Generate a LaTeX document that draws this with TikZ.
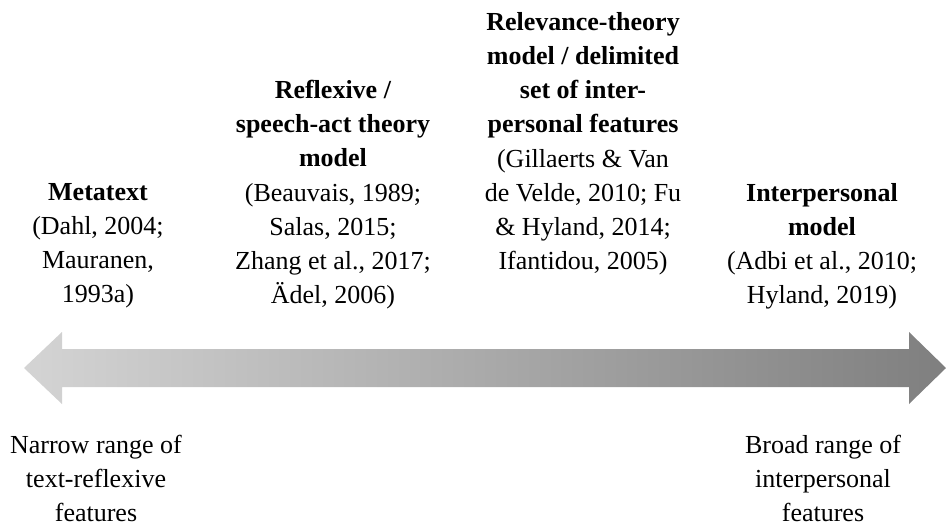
\documentclass[tikz,border=0pt]{standalone}
\usepackage{fontspec}
\setmainfont{Liberation Serif}
\definecolor{PaleGrey}{HTML}{D4D4D4}
\definecolor{DarkGrey}{HTML}{7F7F7F}

\begin{document}
\begin{tikzpicture}[x=1pt,y=-1pt,
  model/.style={align=center,inner sep=0pt,anchor=north,
    font=\fontsize{26}{34.2}\selectfont},
  rangelabel/.style={align=center,inner sep=0pt,anchor=north,
    font=\fontsize{26}{34}\selectfont},
  scalebar/.style={left color=PaleGrey,right color=DarkGrey,draw=none}]
\useasboundingbox (0,0) rectangle (946,528);
% double-headed scale
\shade[scalebar] (24,368) -- (62,332) -- (62,349) -- (909,349) -- (909,332)
  -- (946,368) -- (909,404) -- (909,387) -- (62,387) -- (62,404) -- cycle;
\node[model](metatext) at (98,183) {\textbf{Metatext}\\(Dahl, 2004;\\Mauranen,\\1993a)};
\node[model](reflexive) at (333,80) {\textbf{Reflexive /}\\\textbf{speech-act theory}\\\textbf{model}\\(Beauvais, 1989;\\Salas, 2015;\\Zhang et al., 2017;\\Ädel, 2006)};
\node[model](relevance) at (583,12) {\textbf{Relevance-theory}\\\textbf{model / delimited}\\\textbf{set of inter-}\\\textbf{personal features}\\(Gillaerts \& Van\\de Velde, 2010; Fu\\\& Hyland, 2014;\\Ifantidou, 2005)};
\node[model](interpersonal) at (822,183) {\textbf{Interpersonal}\\\textbf{model}\\(Adbi et al., 2010;\\Hyland, 2019)};
\node[rangelabel](narrow) at (96,435) {Narrow range of\\text-reflexive\\features};
\node[rangelabel](broad) at (823,435) {Broad range of\\interpersonal\\features};
\end{tikzpicture}
\end{document}
